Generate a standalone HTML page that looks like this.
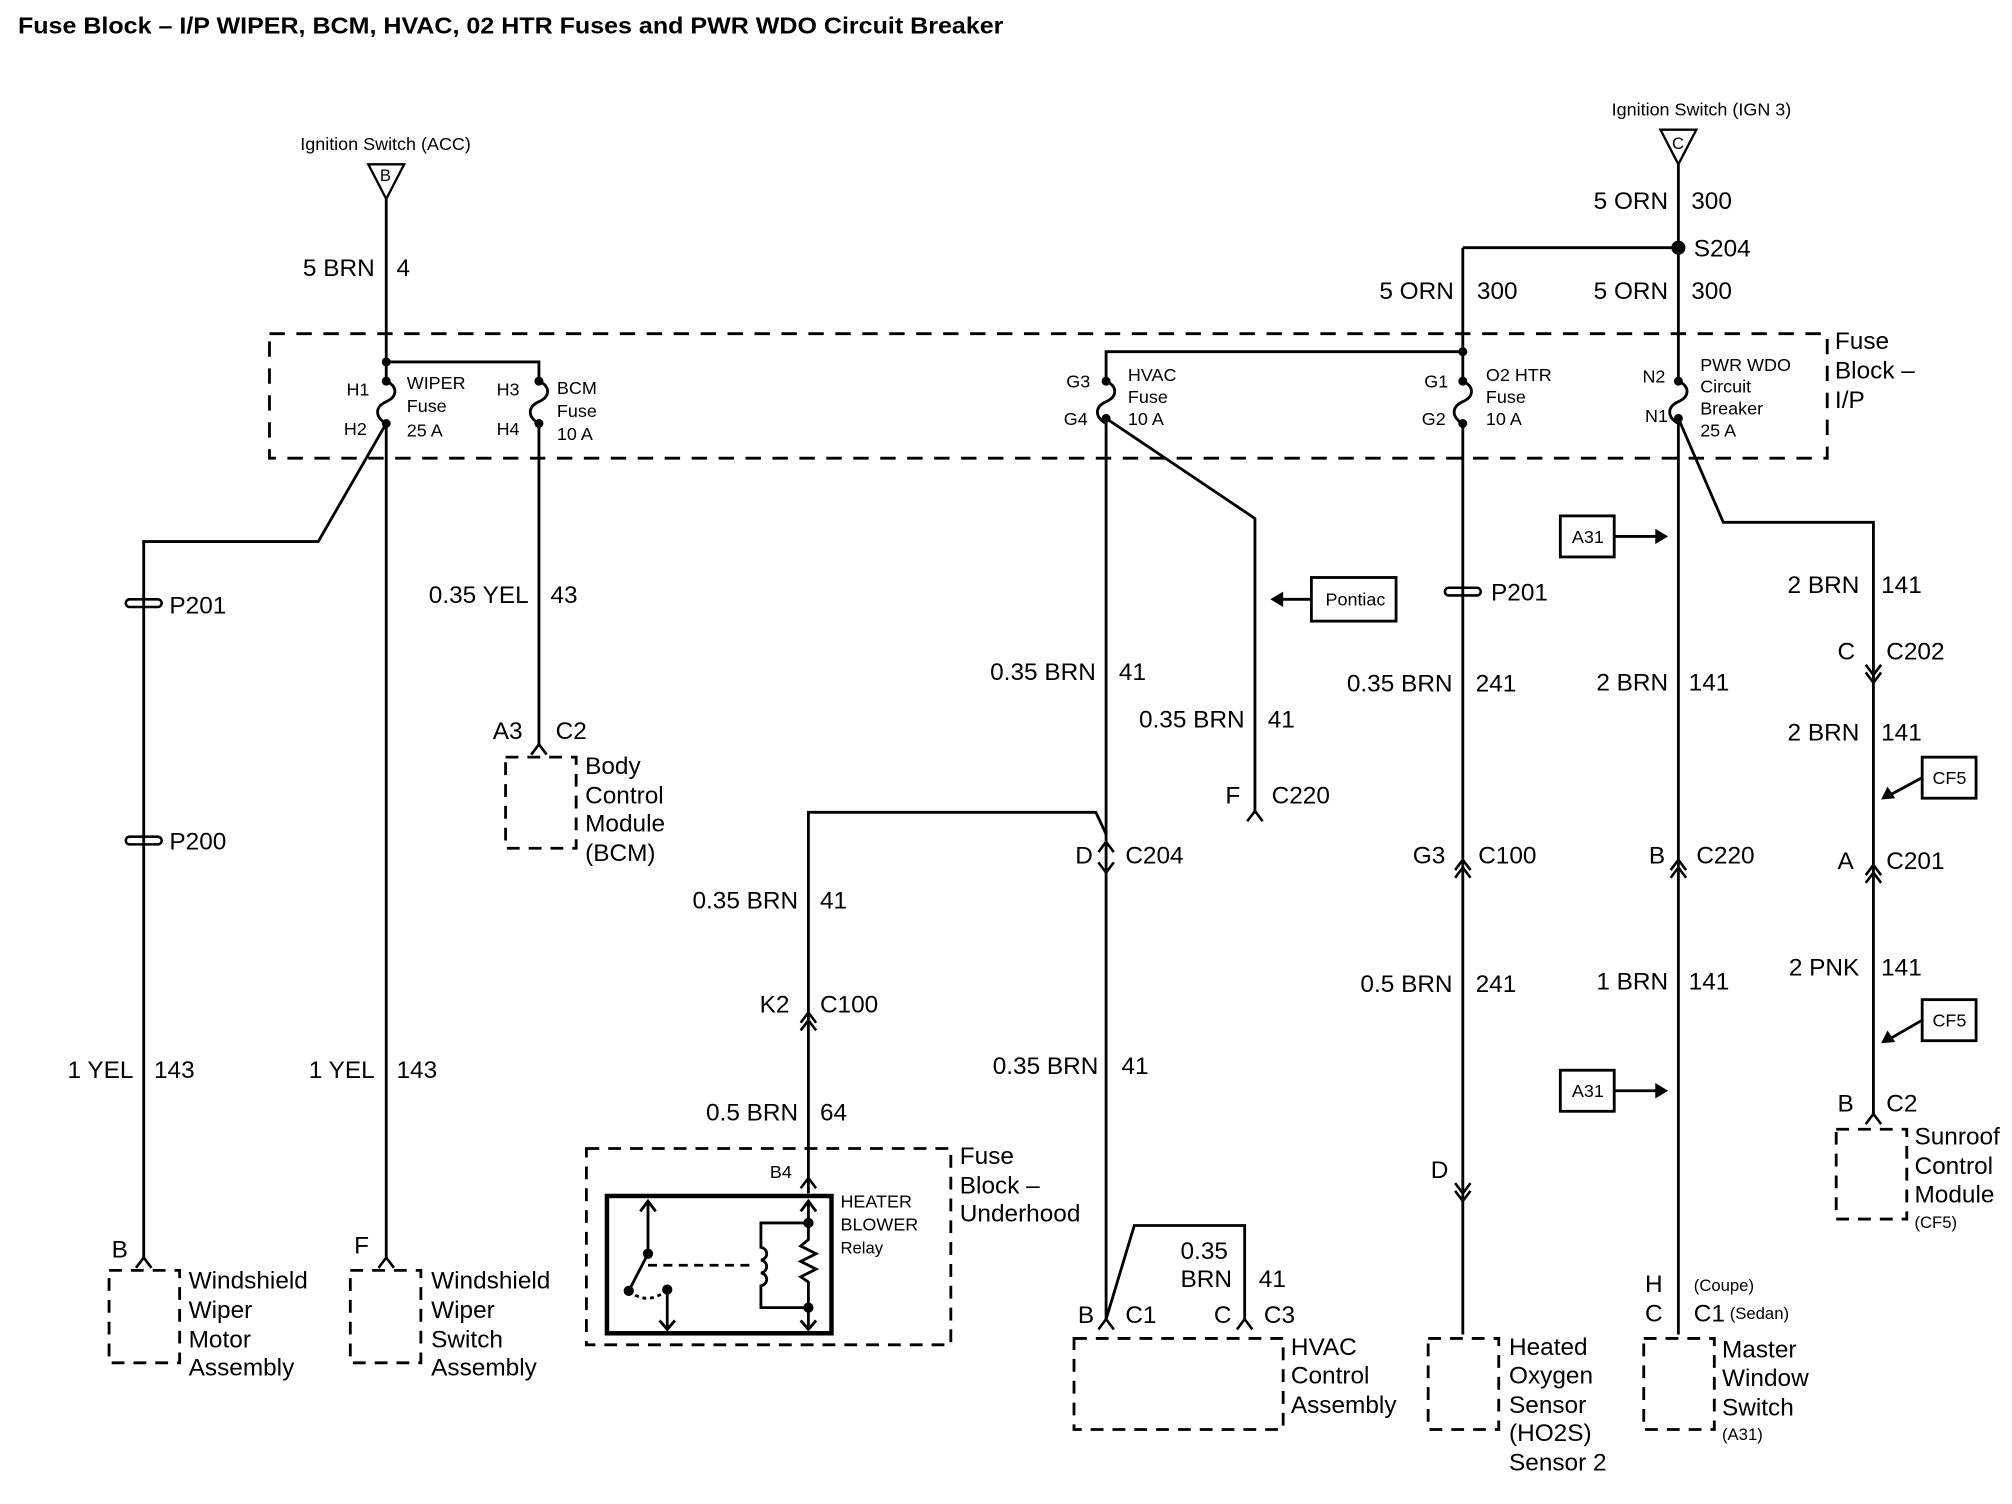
<!DOCTYPE html>
<html><head><meta charset="utf-8"><style>
html,body{margin:0;padding:0;background:#fff;}
svg{display:block;}
text{font-family:"Liberation Sans",Arial,sans-serif;fill:#000;}
.t{font-size:19px;}
.s{font-size:14px;}
.xs{font-size:13px;}
</style></head><body>
<svg width="2012" height="1504" viewBox="0 0 1568 1172" xmlns="http://www.w3.org/2000/svg">
<g fill="none" stroke="#000" stroke-width="2.2">
<rect x="210" y="260" width="1214" height="97" stroke-dasharray="12,9"/>
<path d="M287,128 L315,128 L301,155 Z" stroke-width="1.8"/>
<path d="M301,155 V297 M301,282 H420 V297"/>
<path d="M301,297 c9,4 9,12 0,16 c-9,4 -9,12 0,17"/>
<path d="M420,297 c9,4 9,12 0,16 c-9,4 -9,12 0,17"/>
<path d="M301,330 L248,422 H112 V982"/>
<path d="M301,330 V982"/>
<path d="M420,330 V582"/>
<path d="M862,297 V274 H1140"/>
<path d="M862,297 c9,4 9,12 0,16 c-9,4 -9,12 0,17"/>
<path d="M862,326 V1028"/>
<path d="M862,326 L978,404 V634"/>
<path d="M862,650 L854,633 H630 V930"/>
<path d="M862,1028 L884,955 H970 V1028"/>
<path d="M1140,193 V297 M1140,193 H1308"/>
<path d="M1140,297 c9,4 9,12 0,16 c-9,4 -9,12 0,17"/>
<path d="M1140,330 V1040"/>
<path d="M1294,101 L1322,101 L1308,128 Z" stroke-width="1.8"/>
<path d="M1308,128 V297"/>
<path d="M1308,297 c9,4 9,12 0,16 c-9,4 -9,12 0,17"/>
<path d="M1308,326 V1040"/>
<path d="M1308,326 L1343,407 H1460 V870"/>
<g stroke-width="2">
<rect x="98" y="467" width="28" height="6" rx="3"/>
<rect x="98" y="652" width="28" height="6" rx="3"/>
<rect x="1126" y="458" width="28" height="6" rx="3"/>
</g>
<g stroke-width="2">
<path d="M106,988 L112,980 L118,988"/>
<path d="M295,988 L301,980 L307,988"/>
<path d="M414,588 L420,580 L426,588"/>
<path d="M972,640 L978,632 L984,640"/>
<path d="M856,664 L862,656 L868,664 M856,672 L862,680 L868,672"/>
<path d="M624,797 L630,789 L636,797 M624,803 L630,795 L636,803"/>
<path d="M1134,678 L1140,670 L1146,678 M1134,684 L1140,676 L1146,684"/>
<path d="M1134,922 L1140,930 L1146,922 M1134,928 L1140,936 L1146,928"/>
<path d="M1302,678 L1308,670 L1314,678 M1302,684 L1308,676 L1314,684"/>
<path d="M1454,518 L1460,526 L1466,518 M1454,524 L1460,532 L1466,524"/>
<path d="M1454,682 L1460,674 L1466,682 M1454,688 L1460,680 L1466,688"/>
<path d="M1454,876 L1460,868 L1466,876"/>
<path d="M856,1036 L862,1028 L868,1036"/>
<path d="M964,1036 L970,1028 L976,1036"/>
<path d="M624,926 L630,918 L636,926"/>
</g>
<g stroke-dasharray="10,7">
<rect x="85" y="990" width="55" height="72"/>
<rect x="273" y="990" width="55" height="72"/>
<rect x="394" y="590" width="55" height="71"/>
<rect x="457" y="895" width="284" height="153"/>
<rect x="837" y="1043" width="163" height="71"/>
<rect x="1113" y="1043" width="55" height="71"/>
<rect x="1281" y="1043" width="55" height="71"/>
<rect x="1431" y="880" width="55" height="70"/>
</g>
<rect x="473" y="932" width="175" height="107" stroke-width="3.5"/>
<path d="M505,936 V977 L490,1006 M499,944 L505,936 L511,944"/>
<path d="M520,1005 V1036 M514,1029 L520,1036 L526,1029"/>
<path d="M490,1006 Q505,1018 520,1005" stroke-dasharray="3,3"/>
<path d="M505,986 H588" stroke-dasharray="7,5"/>
<path d="M630,936 V966 l-6,5 l12,6 l-12,6 l12,6 l-12,6 l6,4 V1036 M624,944 L630,936 L636,944 M624,1029 L630,1036 L636,1029"/>
<path d="M630,953 H593 V972 c6,1 6,9 0,10 c6,1 6,9 0,10 c6,1 6,9 0,10 V1019 H630"/>
<rect x="1022" y="450" width="66" height="34"/>
<path d="M1022,467 H996"/>
<rect x="1216" y="402" width="42" height="32"/>
<path d="M1258,418 H1294"/>
<rect x="1216" y="834" width="42" height="32"/>
<path d="M1258,850 H1294"/>
<rect x="1498" y="590" width="42" height="32"/>
<path d="M1498,606 L1472,620"/>
<rect x="1498" y="779" width="42" height="32"/>
<path d="M1498,795 L1472,810"/>
</g>
<g fill="#000">
<path d="M990,467 l10,-6 v12 Z"/>
<path d="M1300,418 l-10,-6 v12 Z"/>
<path d="M1300,850 l-10,-6 v12 Z"/>
<path d="M1466,623 l5,-10 l6,9 Z"/>
<path d="M1466,813 l5,-10 l6,9 Z"/>
<circle cx="301" cy="282" r="3.5"/><circle cx="301" cy="297" r="3.5"/><circle cx="301" cy="330" r="3.5"/>
<circle cx="420" cy="297" r="3.5"/><circle cx="420" cy="330" r="3.5"/>
<circle cx="862" cy="297" r="3.5"/><circle cx="862" cy="326" r="3.5"/>
<circle cx="1140" cy="274" r="3.5"/><circle cx="1140" cy="297" r="3.5"/><circle cx="1140" cy="330" r="3.5"/>
<circle cx="1308" cy="297" r="3.5"/><circle cx="1308" cy="326" r="3.5"/>
<circle cx="1308" cy="193" r="5.5"/>
<circle cx="505" cy="977" r="4"/><circle cx="490" cy="1006" r="4"/><circle cx="520" cy="1005" r="4"/>
<circle cx="630" cy="953" r="4"/><circle cx="630" cy="1019" r="4"/>
</g>
<text x="14" y="26" textLength="768" lengthAdjust="spacingAndGlyphs" style="font-size:18px;font-weight:bold">Fuse Block – I/P WIPER, BCM, HVAC, 02 HTR Fuses and PWR WDO Circuit Breaker</text>
<text class="s" x="234" y="117">Ignition Switch (ACC)</text>
<text class="xs" x="296" y="141">B</text>
<text class="s" x="1256" y="90">Ignition Switch (IGN 3)</text>
<text class="xs" x="1303" y="116">C</text>
<g class="t">
<text x="292" y="215" text-anchor="end">5 BRN</text><text x="309" y="215">4</text>
<text x="1300" y="163" text-anchor="end">5 ORN</text><text x="1318" y="163">300</text>
<text x="1320" y="200">S204</text>
<text x="1133" y="233" text-anchor="end">5 ORN</text><text x="1151" y="233">300</text>
<text x="1300" y="233" text-anchor="end">5 ORN</text><text x="1318" y="233">300</text>
<text x="1430" y="272">Fuse</text><text x="1430" y="295">Block –</text><text x="1430" y="318">I/P</text>
<text x="132" y="478">P201</text><text x="132" y="662">P200</text>
<text x="104" y="840" text-anchor="end">1 YEL</text><text x="120" y="840">143</text>
<text x="292" y="840" text-anchor="end">1 YEL</text><text x="309" y="840">143</text>
<text x="412" y="470" text-anchor="end">0.35 YEL</text><text x="429" y="470">43</text>
<text x="384" y="576">A3</text><text x="433" y="576">C2</text>
<text x="456" y="603">Body</text><text x="456" y="626">Control</text><text x="456" y="648">Module</text><text x="456" y="671">(BCM)</text>
<text x="87" y="980">B</text><text x="276" y="977">F</text>
<text x="147" y="1004">Windshield</text><text x="147" y="1027">Wiper</text><text x="147" y="1050">Motor</text><text x="147" y="1072">Assembly</text>
<text x="336" y="1004">Windshield</text><text x="336" y="1027">Wiper</text><text x="336" y="1050">Switch</text><text x="336" y="1072">Assembly</text>
<text x="854" y="530" text-anchor="end">0.35 BRN</text><text x="872" y="530">41</text>
<text x="970" y="567" text-anchor="end">0.35 BRN</text><text x="988" y="567">41</text>
<text x="955" y="626">F</text><text x="991" y="626">C220</text>
<text x="838" y="673">D</text><text x="877" y="673">C204</text>
<text x="622" y="708" text-anchor="end">0.35 BRN</text><text x="639" y="708">41</text>
<text x="592" y="789">K2</text><text x="639" y="789">C100</text>
<text x="622" y="873" text-anchor="end">0.5 BRN</text><text x="639" y="873">64</text>
<text x="748" y="907">Fuse</text><text x="748" y="930">Block –</text><text x="748" y="952">Underhood</text>
<text x="856" y="837" text-anchor="end">0.35 BRN</text><text x="874" y="837">41</text>
<text x="920" y="981">0.35</text><text x="920" y="1003">BRN</text><text x="981" y="1003">41</text>
<text x="840" y="1031">B</text><text x="877" y="1031">C1</text><text x="946" y="1031">C</text><text x="985" y="1031">C3</text>
<text x="1006" y="1056">HVAC</text><text x="1006" y="1078">Control</text><text x="1006" y="1101">Assembly</text>
<text x="1162" y="468">P201</text>
<text x="1132" y="539" text-anchor="end">0.35 BRN</text><text x="1150" y="539">241</text>
<text x="1101" y="673">G3</text><text x="1152" y="673">C100</text>
<text x="1132" y="773" text-anchor="end">0.5 BRN</text><text x="1150" y="773">241</text>
<text x="1115" y="918">D</text>
<text x="1176" y="1056">Heated</text><text x="1176" y="1078">Oxygen</text><text x="1176" y="1101">Sensor</text><text x="1176" y="1123">(HO2S)</text><text x="1176" y="1146">Sensor 2</text>
<text x="1300" y="538" text-anchor="end">2 BRN</text><text x="1316" y="538">141</text>
<text x="1285" y="673">B</text><text x="1322" y="673">C220</text>
<text x="1300" y="771" text-anchor="end">1 BRN</text><text x="1316" y="771">141</text>
<text x="1282" y="1007">H</text><text x="1282" y="1030">C</text><text x="1320" y="1030">C1</text>
<text x="1342" y="1058">Master</text><text x="1342" y="1080">Window</text><text x="1342" y="1103">Switch</text>
<text x="1449" y="462" text-anchor="end">2 BRN</text><text x="1466" y="462">141</text>
<text x="1432" y="514">C</text><text x="1470" y="514">C202</text>
<text x="1449" y="577" text-anchor="end">2 BRN</text><text x="1466" y="577">141</text>
<text x="1432" y="677">A</text><text x="1470" y="677">C201</text>
<text x="1449" y="760" text-anchor="end">2 PNK</text><text x="1466" y="760">141</text>
<text x="1432" y="866">B</text><text x="1470" y="866">C2</text>
<text x="1492" y="892">Sunroof</text><text x="1492" y="915">Control</text><text x="1492" y="937">Module</text>
</g>
<g class="s">
<text x="270" y="308">H1</text><text x="268" y="339">H2</text>
<text x="317" y="303">WIPER</text><text x="317" y="321">Fuse</text><text x="317" y="340">25 A</text>
<text x="387" y="308">H3</text><text x="387" y="339">H4</text>
<text x="434" y="307">BCM</text><text x="434" y="325">Fuse</text><text x="434" y="343">10 A</text>
<text x="831" y="302">G3</text><text x="829" y="331">G4</text>
<text x="879" y="297">HVAC</text><text x="879" y="314">Fuse</text><text x="879" y="331">10 A</text>
<text x="1110" y="302">G1</text><text x="1108" y="331">G2</text>
<text x="1158" y="297">O2 HTR</text><text x="1158" y="314">Fuse</text><text x="1158" y="331">10 A</text>
<text x="1280" y="298">N2</text><text x="1282" y="329">N1</text>
<text x="1325" y="289">PWR WDO</text><text x="1325" y="306">Circuit</text><text x="1325" y="323">Breaker</text><text x="1325" y="340">25 A</text>
<text x="1033" y="472">Pontiac</text>
<text x="1225" y="423">A31</text><text x="1225" y="855">A31</text>
<text x="1506" y="611">CF5</text><text x="1506" y="800">CF5</text>
<text x="600" y="918">B4</text>
<text x="655" y="941">HEATER</text><text x="655" y="959">BLOWER</text><text x="655" y="977" class="xs">Relay</text>
</g>
<g class="xs">
<text x="1320" y="1006">(Coupe)</text><text x="1348" y="1028">(Sedan)</text>
<text x="1342" y="1122">(A31)</text><text x="1492" y="957">(CF5)</text>
</g>
</svg>
</body></html>
